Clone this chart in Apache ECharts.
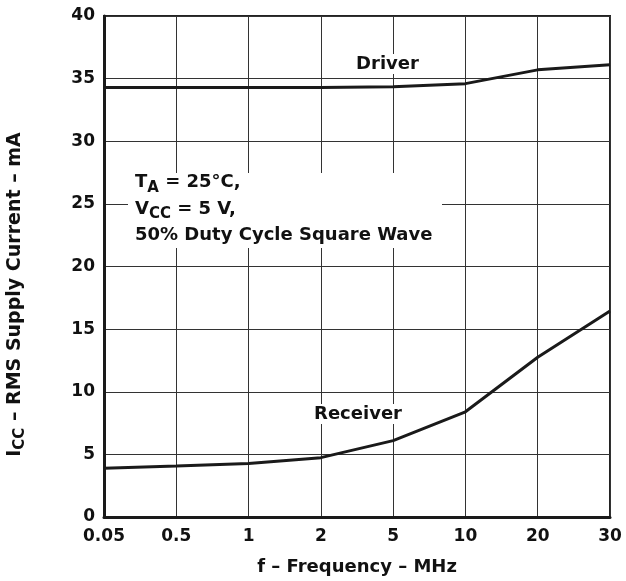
<!DOCTYPE html>
<html><head><meta charset="utf-8">
<script src="https://cdn.jsdelivr.net/npm/echarts@6/dist/echarts.min.js"></script>
<style>html,body{margin:0;padding:0;background:#fff}#c{width:626px;height:581px}</style>
</head><body><div id="c"></div>
<script>
const categories = ['0.05','0.5','1','2','5','10','20','30'];
const driver = [34.3, 34.3, 34.3, 34.3, 34.35, 34.6, 35.7, 36.1];
const receiver = [3.9, 4.08, 4.27, 4.74, 6.1, 8.4, 12.75, 16.45];
const yTicks = {min:0, max:40, interval:5};

const F = '"DejaVu Sans", Verdana, sans-serif';
const txt = '#111';
const chart = echarts.init(document.getElementById('c'));
chart.setOption({
  animation:false,
  grid:{left:104, right:16, top:16, bottom:59, show:true, borderColor:'#222', borderWidth:2, backgroundColor:'transparent'},
  xAxis:{
    type:'category', data:categories, boundaryGap:false,
    axisLine:{lineStyle:{color:'#1a1a1a', width:3}},
    axisTick:{show:false},
    axisLabel:{color:txt, fontFamily:F, fontWeight:'bold', fontSize:17, margin:11},
    splitLine:{show:true, lineStyle:{color:'#333', width:1}},
    name:'f – Frequency – MHz', nameLocation:'middle', nameGap:41,
    nameTextStyle:{color:txt, fontFamily:F, fontWeight:'bold', fontSize:18}
  },
  yAxis:{
    type:'value', min:yTicks.min, max:yTicks.max, interval:yTicks.interval,
    axisLine:{show:true, lineStyle:{color:'#1a1a1a', width:3}},
    axisTick:{show:false},
    axisLabel:{color:txt, fontFamily:F, fontWeight:'bold', fontSize:17, margin:9},
    splitLine:{show:true, lineStyle:{color:'#333', width:1}}
  },
  series:[
    {name:'Driver', type:'line', data:driver, symbol:'none', lineStyle:{color:'#1a1a1a', width:3}, z:5},
    {name:'Receiver', type:'line', data:receiver, symbol:'none', lineStyle:{color:'#1a1a1a', width:3}, z:5}
  ],
  graphic:[
    {type:'rect', shape:{x:128, y:173, width:314, height:75}, style:{fill:'#fff'}, z:10},
    {type:'text', x:135, y:169.5, z:11, style:{
      text:'{b|T}{s|A}{b| = 25°C,}\n{b|V}{s|CC}{b| = 5 V,}\n{b|50% Duty Cycle Square Wave}',
      rich:{b:{fontFamily:F, fontWeight:'bold', fontSize:18, fill:txt, lineHeight:26.5},
            s:{fontFamily:F, fontWeight:'bold', fontSize:15, fill:txt, lineHeight:16.5, padding:[10,0,0,0]}}
    }},
    {type:'text', x:15, y:294.5, rotation:Math.PI/2, z:11, style:{
      text:'{b|I}{s|CC}{b| – RMS Supply Current – mA}', align:'center', verticalAlign:'middle',
      rich:{b:{fontFamily:F, fontWeight:'bold', fontSize:19, fill:txt, lineHeight:28},
            s:{fontFamily:F, fontWeight:'bold', fontSize:15, fill:txt, lineHeight:17, padding:[11,0,0,0]}}
    }},
    {type:'text', x:387.5, y:64, z:11, style:{text:'Driver', fontFamily:F, fontWeight:'bold', fontSize:18, fill:txt,
      align:'center', verticalAlign:'middle', backgroundColor:'#fff', padding:[1,3]}},
    {type:'text', x:358, y:414, z:11, style:{text:'Receiver', fontFamily:F, fontWeight:'bold', fontSize:18, fill:txt,
      align:'center', verticalAlign:'middle', backgroundColor:'#fff', padding:[1,3]}}
  ]
});
</script></body></html>
